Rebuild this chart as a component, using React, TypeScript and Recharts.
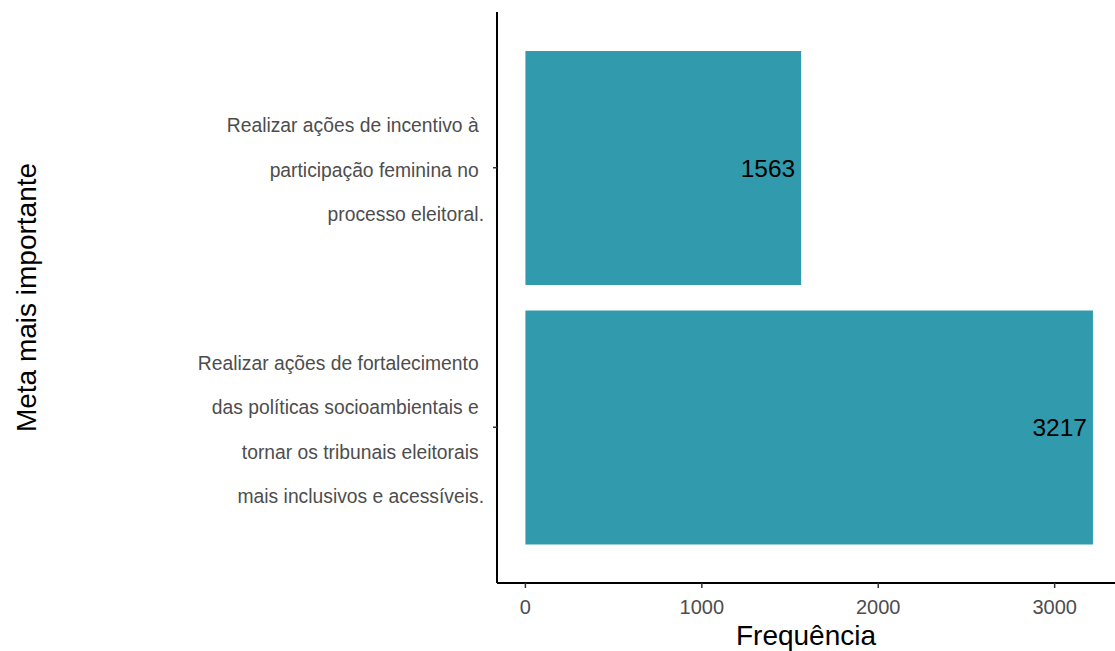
import { BarChart, Bar, XAxis, YAxis, LabelList, Label } from "recharts";

// meta (category) labels, already broken into the lines shown on the axis
const metaLines: string[][] = [
  ["Realizar ações de incentivo à ", "participação feminina no ", "processo eleitoral."],
  [
    "Realizar ações de fortalecimento ",
    "das políticas socioambientais e ",
    "tornar os tribunais eleitorais ",
    "mais inclusivos e acessíveis.",
  ],
];
const metas: string[] = metaLines.map((l) => l.join("").trim());
const frequencias: number[] = [1563, 3217];
const xTicks: number[] = [0, 1000, 2000, 3000];

const data = metas.map((meta, i) => ({ meta, freq: frequencias[i] }));

const FONT = "'Liberation Sans', Arial, sans-serif";

const MetaTick = (props: any) => {
  const { x, y, index } = props;
  const lines = metaLines[index] ?? [];
  const n = lines.length;
  return (
    <text
      textAnchor="end"
      fontSize={19.3}
      fill="#4d4d4d"
      fontFamily={FONT}
      style={{ whiteSpace: "pre" }}
    >
      {lines.map((line, i) => (
        <tspan key={i} x={x} y={y + 9 + (i - (n - 1) / 2) * 44.5}>
          {line}
        </tspan>
      ))}
    </text>
  );
};

const ValueLabel = (props: any) => {
  const { x, y, width, height, value } = props;
  return (
    <text
      x={x + width - 6}
      y={y + height / 2 + 8.5}
      textAnchor="end"
      fontSize={24.5}
      fill="#000"
      fontFamily={FONT}
    >
      {value}
    </text>
  );
};

const YTitle = (props: any) => {
  const vb = props.viewBox ?? { y: 12, height: 571 };
  const cy = vb.y + vb.height / 2;
  return (
    <text
      x={36}
      y={cy}
      transform={`rotate(-90, 36, ${cy})`}
      textAnchor="middle"
      fontSize={28}
      fill="#000"
      fontFamily={FONT}
    >
      Meta mais importante
    </text>
  );
};

export default function App() {
  return (
    <div style={{ position: "absolute", left: 0, top: 0, fontFamily: FONT, background: "#fff" }}>
      <BarChart
        width={1115}
        height={651}
        data={data}
        layout="vertical"
        margin={{ top: 12, right: 0, bottom: 0, left: 0 }}
      >
        <XAxis
          type="number"
          dataKey="freq"
          domain={[-161, 3342]}
          ticks={xTicks}
          allowDataOverflow
          height={68}
          axisLine={{ stroke: "#000", strokeWidth: 2 }}
          tickLine={{ stroke: "#333", strokeWidth: 1.5 }}
          tickSize={5}
          tickMargin={12}
          tick={{ fill: "#4d4d4d", fontSize: 20, fontFamily: FONT }}
        >
          <Label
            value="Frequência"
            position="insideBottom"
            offset={6}
            fill="#000"
            fontSize={28}
            fontFamily={FONT}
          />
        </XAxis>
        <YAxis
          type="category"
          dataKey="meta"
          width={497}
          padding={{ top: 26, bottom: 26 }}
          axisLine={{ stroke: "#000", strokeWidth: 2 }}
          tickLine={{ stroke: "#333", strokeWidth: 1.5 }}
          tickSize={4}
          tickMargin={9}
          tick={<MetaTick />}
          interval={0}
        >
          <Label content={<YTitle />} />
        </YAxis>
        <Bar dataKey="freq" fill="#319BAD" barSize={234} isAnimationActive={false}>
          <LabelList dataKey="freq" content={<ValueLabel />} />
        </Bar>
      </BarChart>
    </div>
  );
}
